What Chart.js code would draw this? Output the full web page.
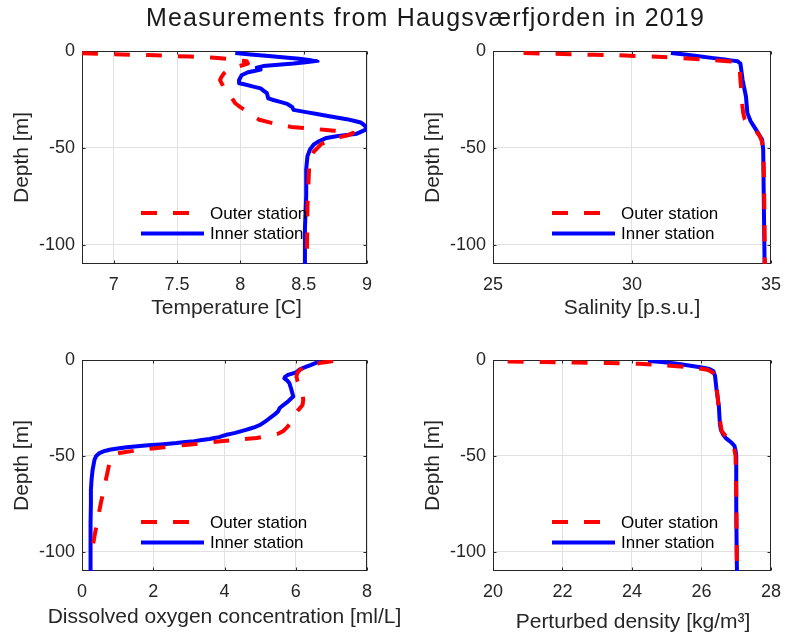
<!DOCTYPE html>
<html>
<head>
<meta charset="utf-8">
<title>Haugsværfjorden 2019</title>
<script src="https://cdn.jsdelivr.net/npm/chart.js@4.4.1/dist/chart.umd.min.js"></script>
<style>
  html, body { margin: 0; padding: 0; background: #ffffff; }
  #wrap { position: relative; width: 791px; height: 641px; overflow: hidden; }
  #wrap canvas { position: absolute; left: 0; top: 0; }
  #title {
    position: absolute; left: 0; top: 5px; width: 851px; text-align: center;
    font-family: "Liberation Sans", Arial, Helvetica, sans-serif; font-size: 25px;
    line-height: 25px; letter-spacing: 1.2px; color: #1a1a1a; white-space: nowrap;
  }
</style>
</head>
<body>
<div id="wrap">
  <canvas id="c1" width="791" height="641"></canvas>
  <canvas id="c2" width="791" height="641"></canvas>
  <canvas id="c3" width="791" height="641"></canvas>
  <canvas id="c4" width="791" height="641"></canvas>
  <div id="title">Measurements from Haugsværfjorden in 2019</div>
</div>
<script>
// ---------- profile data (depth in metres, negative downwards) ----------
const seriesLabels = ['Outer station', 'Inner station'];

const depthTicks = [-100, -50, 0];
const depthTickLabels = ['-100', '-50', '0'];

// Temperature [C]
const tempTicks = [7, 7.5, 8, 8.5, 9];
const tempTickLabels = ['7', '7.5', '8', '8.5', '9'];
const tempOuterDepth = [-1.2, -1.8, -2.2, -2.9, -3.5, -4.3, -5.3, -6.5, -8.2, -10, -11.6, -13.5, -15, -17.6, -19.5, -21, -24, -27, -29, -31, -33.5, -35.5, -37.7, -39.2, -40, -40.8, -41.5, -42.3, -43.5, -45.5, -48, -52, -57, -65, -80, -110];
const tempOuter      = [6.75, 7.07, 7.33, 7.6, 7.8, 7.93, 8.05, 8.06, 7.97, 7.9, 7.87, 7.85, 7.84, 7.86, 7.87, 7.89, 7.93, 7.96, 8.0, 8.05, 8.1, 8.15, 8.28, 8.4, 8.55, 8.68, 8.8, 8.89, 8.85, 8.72, 8.64, 8.58, 8.545, 8.54, 8.53, 8.525];
const tempInnerDepth = [-1, -2.5, -3.8, -5.1, -6.5, -7.8, -8.6, -9.6, -11, -12.5, -15, -16.7, -17.2, -19.3, -21.8, -24.4, -25.3, -27.3, -29, -30.4, -31.7, -33.4, -35.2, -36.9, -38.9, -40.6, -42.7, -43.7, -44.9, -46.6, -48.3, -50.9, -54.3, -61, -74.7, -91.8, -110];
const tempInner      = [7.96, 8.2, 8.42, 8.61, 8.42, 8.18, 8.13, 8.16, 8.06, 8.01, 7.99, 7.99, 8.03, 8.16, 8.21, 8.22, 8.26, 8.37, 8.41, 8.42, 8.53, 8.68, 8.84, 8.95, 8.99, 8.99, 8.92, 8.79, 8.68, 8.62, 8.58, 8.55, 8.53, 8.52, 8.52, 8.51, 8.51];

// Salinity [p.s.u.]
const salTicks = [25, 30, 35];
const salTickLabels = ['25', '30', '35'];
const salOuterDepth = [-1, -1.7, -2.2, -3.1, -4.3, -5.6, -7, -10, -15, -20, -24, -28, -32, -35, -37, -39, -41.5, -44, -47, -52, -60, -80, -110];
const salOuter      = [26.1, 27.8, 29.5, 31.1, 32.5, 33.7, 33.85, 33.88, 33.9, 33.93, 33.95, 33.97, 34.0, 34.05, 34.15, 34.3, 34.47, 34.6, 34.68, 34.72, 34.74, 34.76, 34.78];
const salInnerDepth = [-1, -2.7, -4.4, -5.3, -6.5, -15, -23.5, -32, -36.3, -41.5, -45.7, -51, -75, -110];
const salInner      = [31.4, 32.4, 33.33, 33.8, 33.9, 33.98, 34.1, 34.15, 34.27, 34.5, 34.68, 34.72, 34.74, 34.77];

// Dissolved oxygen concentration [ml/L]
const oxyTicks = [0, 2, 4, 6, 8];
const oxyTickLabels = ['0', '2', '4', '6', '8'];
const oxyOuterDepth = [-0.5, -1.5, -2.6, -4, -5.5, -7, -8.7, -11, -14, -17, -19, -21, -23.4, -25, -27, -29, -31, -33, -35, -37, -38.5, -39.5, -40.7, -41.5, -42.3, -43.5, -44.5, -45.5, -46.5, -47.5, -48.5, -49.4, -51, -53.7, -59, -66, -74.5, -83, -92, -97];
const oxyOuter      = [7.05, 6.7, 6.35, 6.2, 6.1, 6.04, 6.02, 6.05, 6.12, 6.17, 6.2, 6.21, 6.19, 6.12, 6.03, 5.98, 5.92, 5.85, 5.76, 5.65, 5.5, 5.25, 4.9, 4.4, 3.9, 3.3, 2.8, 2.3, 1.8, 1.4, 1.05, 0.88, 0.82, 0.77, 0.71, 0.63, 0.53, 0.44, 0.35, 0.3];
const oxyInnerDepth = [-0.8, -2, -3.5, -5, -6.4, -7.8, -8.8, -9.6, -10.5, -12, -15.6, -19, -21.7, -23.5, -25, -26.9, -28.5, -30.3, -32, -33.8, -35, -36.4, -38, -39, -40.2, -41.2, -42.3, -43.3, -44, -44.7, -45.5, -46.3, -46.8, -47.5, -48.5, -50, -52, -57, -62, -67.6, -75, -85, -95, -110];
const oxyInner      = [6.68, 6.5, 6.3, 6.1, 6.02, 5.78, 5.7, 5.68, 5.75, 5.82, 5.88, 5.93, 5.78, 5.65, 5.55, 5.5, 5.4, 5.27, 5.15, 5.0, 4.85, 4.6, 4.3, 4.05, 3.85, 3.58, 3.15, 2.65, 2.2, 1.7, 1.25, 0.95, 0.77, 0.62, 0.49, 0.4, 0.35, 0.3, 0.27, 0.25, 0.25, 0.24, 0.24, 0.24];

// Perturbed density [kg/m3]
const densTicks = [20, 22, 24, 26, 28];
const densTickLabels = ['20', '22', '24', '26', '28'];
const densOuterDepth = [-0.8, -1, -1.3, -1.6, -2, -2.8, -4, -5.2, -7, -10, -20, -30, -37, -41, -45, -50, -70, -110];
const densOuter      = [20.42, 21.4, 22.3, 23.3, 24.2, 25.0, 25.8, 26.2, 26.35, 26.4, 26.47, 26.52, 26.58, 26.75, 26.93, 26.98, 27.0, 27.02];
const densInnerDepth = [-0.5, -1.4, -3.1, -4.5, -5.7, -8.3, -15, -24, -33.6, -36.5, -38.8, -40.7, -42.3, -43.8, -44.9, -47, -50, -60, -76, -95, -110];
const densInner      = [24.46, 25.07, 25.73, 26.2, 26.34, 26.39, 26.43, 26.5, 26.53, 26.56, 26.62, 26.7, 26.81, 26.9, 26.95, 26.98, 27.0, 27.0, 27.0, 27.01, 27.02];

// ---------- look ----------
const PAGE_W = 791, PAGE_H = 641;
const FONT = '"Liberation Sans", Arial, Helvetica, sans-serif';
const INK = '#262626';
const GRID = '#e1e1e1';
const OUTER_STYLE = { color: '#ff0000', width: 4, dash: [16, 16] };
const INNER_STYLE = { color: '#0000ff', width: 4, dash: [] };
const Y_AXIS_W = 72.6;   // room for tick labels + rotated "Depth [m]"
const X_AXIS_H = 40;

function profile(values, depths) {
  return values.map((v, i) => ({ x: v, y: depths[i] }));
}

// Axes box with small inward tick marks (drawn beneath the curves)
const framePlugin = {
  id: 'frame',
  beforeDatasetsDraw(chart) {
    const { ctx, chartArea: a, scales } = chart;
    const L = Math.round(a.left) + 0.5, R = Math.round(a.right) - 0.5;
    const T = Math.round(a.top) + 0.5, B = Math.round(a.bottom) - 0.5;
    ctx.save();
    ctx.strokeStyle = INK;
    ctx.lineWidth = 1;
    ctx.strokeRect(L, T, R - L, B - T);
    ctx.beginPath();
    scales.x.ticks.forEach(t => {
      const px = Math.round(scales.x.getPixelForValue(t.value)) + 0.5;
      ctx.moveTo(px, B); ctx.lineTo(px, B - 3);
      ctx.moveTo(px, T); ctx.lineTo(px, T + 3);
    });
    scales.y.ticks.forEach(t => {
      const py = Math.round(scales.y.getPixelForValue(t.value)) + 0.5;
      ctx.moveTo(L, py); ctx.lineTo(L + 3, py);
      ctx.moveTo(R, py); ctx.lineTo(R - 3, py);
    });
    ctx.stroke();
    ctx.restore();
  }
};

// Legend inside the axes (no box) and the x-axis label, which may be wider than the axes
const annotatePlugin = {
  id: 'annotate',
  afterDatasetsDraw(chart, args, opts) {
    const { ctx, chartArea: a } = chart;
    ctx.save();
    // legend
    const rows = [a.top + 162, a.top + 182.5];
    chart.data.datasets.forEach((ds, i) => {
      const y = rows[i];
      ctx.beginPath();
      ctx.strokeStyle = ds.borderColor;
      ctx.lineWidth = ds.borderWidth;
      ctx.setLineDash(ds.borderDash || []);
      ctx.lineCap = 'butt';
      ctx.moveTo(a.left + 59, y);
      ctx.lineTo(a.left + 122, y);
      ctx.stroke();
      ctx.setLineDash([]);
      ctx.fillStyle = '#000000';
      ctx.font = '17px ' + FONT;
      ctx.textAlign = 'left';
      ctx.textBaseline = 'middle';
      ctx.fillText(ds.label, a.left + 128, y + 1);
    });
    // x-axis label
    ctx.fillStyle = INK;
    ctx.font = '21px ' + FONT;
    ctx.textAlign = 'center';
    ctx.textBaseline = 'alphabetic';
    ctx.fillText(opts.xTitle, (a.left + a.right) / 2 + (opts.xShift || 0), a.bottom + opts.titleDrop);
    ctx.restore();
  }
};

const panels = [
  { canvas: 'c1', area: { left: 82, top: 51, right: 367, bottom: 264 },
    xMin: 6.75, xMax: 9, ticks: tempTicks, tickLabels: tempTickLabels,
    xTitle: 'Temperature [C]', titleDrop: 49.5, xShift: 2,
    outer: profile(tempOuter, tempOuterDepth), inner: profile(tempInner, tempInnerDepth) },
  { canvas: 'c2', area: { left: 493, top: 51, right: 777, bottom: 264 },
    xMin: 25, xMax: 35, ticks: salTicks, tickLabels: salTickLabels,
    xTitle: 'Salinity [p.s.u.]', titleDrop: 49.5, xShift: 0,
    outer: profile(salOuter, salOuterDepth), inner: profile(salInner, salInnerDepth) },
  { canvas: 'c3', area: { left: 82, top: 360, right: 367, bottom: 571 },
    xMin: 0, xMax: 8, ticks: oxyTicks, tickLabels: oxyTickLabels,
    xTitle: 'Dissolved oxygen concentration [ml/L]', titleDrop: 51.5, xShift: 0,
    outer: profile(oxyOuter, oxyOuterDepth), inner: profile(oxyInner, oxyInnerDepth) },
  { canvas: 'c4', area: { left: 493, top: 360, right: 777, bottom: 571 },
    xMin: 20, xMax: 28, ticks: densTicks, tickLabels: densTickLabels,
    xTitle: 'Perturbed density [kg/m\u00B3]', titleDrop: 57, xShift: 1,
    outer: profile(densOuter, densOuterDepth), inner: profile(densInner, densInnerDepth) }
];

function lineDataset(label, data, style) {
  return {
    label, data,
    showLine: true,
    borderColor: style.color,
    backgroundColor: style.color,
    borderWidth: style.width,
    borderDash: style.dash,
    borderCapStyle: 'butt',
    borderJoinStyle: 'round',
    tension: 0.001,
    pointRadius: 0,
    pointHoverRadius: 0,
    fill: false,
    clip: 0
  };
}

panels.forEach(p => {
  const a = p.area;
  new Chart(document.getElementById(p.canvas), {
    type: 'scatter',
    data: {
      datasets: [
        lineDataset(seriesLabels[0], p.outer, OUTER_STYLE),
        lineDataset(seriesLabels[1], p.inner, INNER_STYLE)
      ]
    },
    options: {
      responsive: false,
      animation: false,
      events: [],
      layout: {
        padding: {
          left: a.left - Y_AXIS_W,
          top: a.top,
          right: PAGE_W - a.right,
          bottom: PAGE_H - a.bottom - X_AXIS_H
        }
      },
      plugins: {
        legend: { display: false },
        tooltip: { enabled: false },
        annotate: { xTitle: p.xTitle, titleDrop: p.titleDrop, xShift: p.xShift }
      },
      scales: {
        x: {
          type: 'linear', position: 'bottom',
          min: p.xMin, max: p.xMax,
          afterBuildTicks: s => { s.ticks = p.ticks.map(v => ({ value: v })); },
          afterFit: s => { s.height = X_AXIS_H; },
          grid: { color: GRID, lineWidth: 1, drawTicks: false },
          border: { display: false },
          ticks: {
            color: INK, padding: 10, maxRotation: 0, autoSkip: false,
            font: { family: FONT, size: 18 },
            callback: (v, i) => p.tickLabels[i]
          }
        },
        y: {
          type: 'linear', position: 'left',
          min: -110, max: 0,
          afterBuildTicks: s => { s.ticks = depthTicks.map(v => ({ value: v })); },
          afterFit: s => { s.width = Y_AXIS_W; },
          grid: { color: GRID, lineWidth: 1, drawTicks: false },
          border: { display: false },
          ticks: {
            color: INK, padding: 7, autoSkip: false,
            font: { family: FONT, size: 18 },
            callback: (v, i) => depthTickLabels[i]
          },
          title: {
            display: true, text: 'Depth [m]', color: INK, padding: 0,
            font: { family: FONT, size: 21 }
          }
        }
      }
    },
    plugins: [framePlugin, annotatePlugin]
  });
});
</script>
</body>
</html>
